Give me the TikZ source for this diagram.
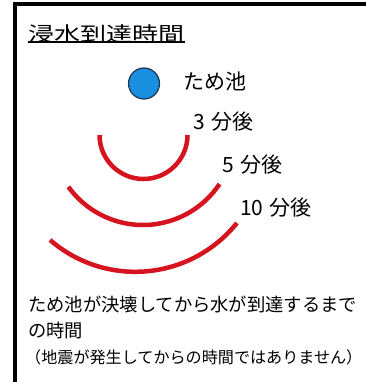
\documentclass[tikz,border=0pt]{standalone}
\usepackage{fontspec}
\setmainfont{Noto Sans CJK JP}
\definecolor{wavered}{HTML}{D5141F}
\definecolor{pondblue}{HTML}{1A8FE0}
\definecolor{pondedge}{HTML}{1B3550}
\tikzset{
  wave/.style={draw=wavered, line width=4.5pt},
  lbl/.style={inner sep=0pt, anchor=west, text=black},
  frameline/.style={draw=black, line width=4pt}
}
\begin{document}
\begin{tikzpicture}[x=1pt,y=-1pt]
\useasboundingbox[fill=white] (0,0) rectangle (366,382);
% frame
\coordinate (fb) at (15,382);
\coordinate (ftl) at (15,4);
\coordinate (ftr) at (366,4);
\draw[frameline] (fb) -- (ftl) -- (ftr);
% title
\node[lbl, transform shape, xscale=1.3, font=\fontsize{20}{20}\selectfont] (title) at (28,34) {浸水到達時間};
\draw[line width=1.4pt] ([yshift=1.5pt]title.south west) -- ([yshift=1.5pt]title.south east);
% pond
\node[circle, fill=pondblue, draw=pondedge, line width=1.2pt, minimum size=31pt, inner sep=0pt] (pond) at (144,83.5) {};
\node[lbl, font=\fontsize{21}{21}\selectfont] (pondlbl) at (183,81) {ため池};
% waves
\draw[wave] (99.5,135) arc[start angle=180, end angle=0, radius=44];
\draw[wave] (143,133) ++(144.2:92) arc[start angle=144.2, end angle=33.7, radius=92];
\draw[wave] (135.3,141.6) ++(130.9:130.2) arc[start angle=130.9, end angle=38.7, radius=130.2];
% minute labels
\node[lbl, font=\fontsize{21}{21}\selectfont] (m3) at (193,122) {3\hspace{0.3em}分後};
\node[lbl, font=\fontsize{21}{21}\selectfont] (m5) at (222,165) {5\hspace{0.3em}分後};
\node[lbl, font=\fontsize{21}{21}\selectfont] (m10) at (240,208) {10\hspace{0.3em}分後};
% notes
\node[lbl, font=\fontsize{18.3}{18.3}\selectfont] (note1) at (28,305) {ため池が決壊してから水が到達するまで};
\node[lbl, font=\fontsize{18.3}{18.3}\selectfont] (note2) at (28,331) {の時間};
\node[lbl, font=\fontsize{16.1}{16.1}\selectfont] (note3) at (25,357) {（地震が発生してからの時間ではありません）};
\end{tikzpicture}
\end{document}
